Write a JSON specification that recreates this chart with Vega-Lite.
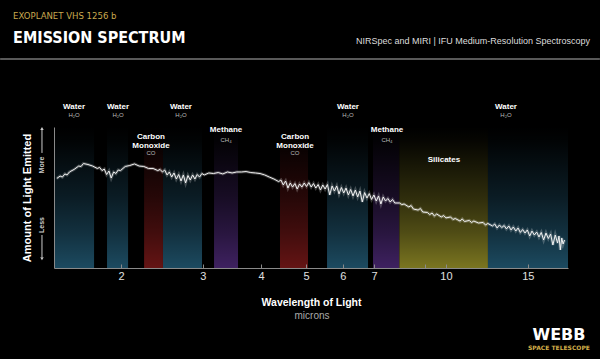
{
  "$schema": "https://vega.github.io/schema/vega-lite/v6.json",
  "width": 514,
  "height": 141,
  "autosize": "none",
  "padding": {"left": 54, "top": 127, "right": 32, "bottom": 91},
  "background": "#000000",
  "config": {"view": {"stroke": null}, "font": "Liberation Sans, DejaVu Sans, sans-serif"},
  "datasets": {
    "bands": [
      {"molecule": "Water", "start": 1.435, "end": 1.750},
      {"molecule": "Water", "start": 1.866, "end": 2.071},
      {"molecule": "Carbon Monoxide", "start": 2.242, "end": 2.462},
      {"molecule": "Water", "start": 2.462, "end": 2.987},
      {"molecule": "Methane", "start": 3.170, "end": 3.570},
      {"molecule": "Carbon Monoxide", "start": 4.395, "end": 5.049},
      {"molecule": "Water", "start": 5.548, "end": 6.797},
      {"molecule": "Methane", "start": 6.967, "end": 7.94},
      {"molecule": "Silicates", "start": 7.94, "end": 12.31},
      {"molecule": "Water", "start": 12.31, "end": 18.3}
    ],
    "labels": [
      {"molecule": "Water", "name": "Water", "formula": "H₂O", "wl": 1.585},
      {"molecule": "Water", "name": "Water", "formula": "H₂O", "wl": 1.971},
      {"molecule": "Carbon Monoxide", "name": "Carbon\nMonoxide", "formula": "CO", "wl": 2.320},
      {"molecule": "Water", "name": "Water", "formula": "H₂O", "wl": 2.692},
      {"molecule": "Methane", "name": "Methane", "formula": "CH₄", "wl": 3.365},
      {"molecule": "Carbon Monoxide", "name": "Carbon\nMonoxide", "formula": "CO", "wl": 4.735},
      {"molecule": "Water", "name": "Water", "formula": "H₂O", "wl": 6.155},
      {"molecule": "Methane", "name": "Methane", "formula": "CH₄", "wl": 7.467},
      {"molecule": "Silicates", "name": "Silicates", "formula": "", "wl": 9.90},
      {"molecule": "Water", "name": "Water", "formula": "H₂O", "wl": 13.46}
    ],
    "spectrum": [
      {"wl": 1.455, "flux": 0.635}, {"wl": 1.479, "flux": 0.652}, {"wl": 1.496, "flux": 0.645}, {"wl": 1.514, "flux": 0.667},
      {"wl": 1.531, "flux": 0.660}, {"wl": 1.549, "flux": 0.681}, {"wl": 1.585, "flux": 0.699}, {"wl": 1.622, "flux": 0.723},
      {"wl": 1.641, "flux": 0.720}, {"wl": 1.660, "flux": 0.741}, {"wl": 1.698, "flux": 0.734}, {"wl": 1.738, "flux": 0.723},
      {"wl": 1.778, "flux": 0.706}, {"wl": 1.799, "flux": 0.713}, {"wl": 1.820, "flux": 0.691}, {"wl": 1.841, "flux": 0.702},
      {"wl": 1.862, "flux": 0.663}, {"wl": 1.884, "flux": 0.688}, {"wl": 1.905, "flux": 0.638}, {"wl": 1.928, "flux": 0.681},
      {"wl": 1.950, "flux": 0.670}, {"wl": 1.972, "flux": 0.695}, {"wl": 1.995, "flux": 0.691}, {"wl": 2.042, "flux": 0.720},
      {"wl": 2.089, "flux": 0.727}, {"wl": 2.138, "flux": 0.738}, {"wl": 2.188, "flux": 0.723}, {"wl": 2.239, "flux": 0.720},
      {"wl": 2.291, "flux": 0.706}, {"wl": 2.344, "flux": 0.706}, {"wl": 2.399, "flux": 0.691}, {"wl": 2.427, "flux": 0.699},
      {"wl": 2.455, "flux": 0.681}, {"wl": 2.483, "flux": 0.695}, {"wl": 2.512, "flux": 0.660}, {"wl": 2.541, "flux": 0.681},
      {"wl": 2.570, "flux": 0.645}, {"wl": 2.600, "flux": 0.674}, {"wl": 2.630, "flux": 0.631}, {"wl": 2.661, "flux": 0.663},
      {"wl": 2.692, "flux": 0.617}, {"wl": 2.723, "flux": 0.660}, {"wl": 2.754, "flux": 0.603}, {"wl": 2.786, "flux": 0.656},
      {"wl": 2.818, "flux": 0.624}, {"wl": 2.851, "flux": 0.660}, {"wl": 2.884, "flux": 0.631}, {"wl": 2.917, "flux": 0.663},
      {"wl": 2.951, "flux": 0.645}, {"wl": 2.985, "flux": 0.670}, {"wl": 3.020, "flux": 0.660}, {"wl": 3.090, "flux": 0.674},
      {"wl": 3.162, "flux": 0.670}, {"wl": 3.236, "flux": 0.677}, {"wl": 3.311, "flux": 0.667}, {"wl": 3.388, "flux": 0.681},
      {"wl": 3.467, "flux": 0.674}, {"wl": 3.548, "flux": 0.681}, {"wl": 3.631, "flux": 0.681}, {"wl": 3.715, "flux": 0.684},
      {"wl": 3.802, "flux": 0.677}, {"wl": 3.890, "flux": 0.674}, {"wl": 3.981, "flux": 0.670}, {"wl": 4.074, "flux": 0.660},
      {"wl": 4.169, "flux": 0.645}, {"wl": 4.266, "flux": 0.631}, {"wl": 4.365, "flux": 0.613}, {"wl": 4.416, "flux": 0.624},
      {"wl": 4.467, "flux": 0.589}, {"wl": 4.519, "flux": 0.617}, {"wl": 4.571, "flux": 0.567}, {"wl": 4.624, "flux": 0.603},
      {"wl": 4.677, "flux": 0.574}, {"wl": 4.732, "flux": 0.599}, {"wl": 4.786, "flux": 0.560}, {"wl": 4.842, "flux": 0.596},
      {"wl": 4.898, "flux": 0.574}, {"wl": 4.955, "flux": 0.603}, {"wl": 5.012, "flux": 0.578}, {"wl": 5.070, "flux": 0.606},
      {"wl": 5.129, "flux": 0.574}, {"wl": 5.188, "flux": 0.599}, {"wl": 5.248, "flux": 0.567}, {"wl": 5.309, "flux": 0.592},
      {"wl": 5.370, "flux": 0.553}, {"wl": 5.433, "flux": 0.589}, {"wl": 5.495, "flux": 0.560}, {"wl": 5.559, "flux": 0.592},
      {"wl": 5.623, "flux": 0.518}, {"wl": 5.689, "flux": 0.582}, {"wl": 5.754, "flux": 0.546}, {"wl": 5.821, "flux": 0.582},
      {"wl": 5.888, "flux": 0.525}, {"wl": 5.957, "flux": 0.571}, {"wl": 6.026, "flux": 0.532}, {"wl": 6.095, "flux": 0.567},
      {"wl": 6.166, "flux": 0.518}, {"wl": 6.237, "flux": 0.557}, {"wl": 6.310, "flux": 0.511}, {"wl": 6.383, "flux": 0.553},
      {"wl": 6.457, "flux": 0.504}, {"wl": 6.531, "flux": 0.546}, {"wl": 6.607, "flux": 0.468}, {"wl": 6.683, "flux": 0.535},
      {"wl": 6.761, "flux": 0.496}, {"wl": 6.839, "flux": 0.528}, {"wl": 6.918, "flux": 0.486}, {"wl": 6.998, "flux": 0.518},
      {"wl": 7.079, "flux": 0.475}, {"wl": 7.161, "flux": 0.511}, {"wl": 7.244, "flux": 0.454}, {"wl": 7.328, "flux": 0.504},
      {"wl": 7.413, "flux": 0.475}, {"wl": 7.499, "flux": 0.493}, {"wl": 7.586, "flux": 0.468}, {"wl": 7.674, "flux": 0.486},
      {"wl": 7.762, "flux": 0.461}, {"wl": 7.943, "flux": 0.461}, {"wl": 8.035, "flux": 0.450}, {"wl": 8.128, "flux": 0.454},
      {"wl": 8.318, "flux": 0.433}, {"wl": 8.414, "flux": 0.443}, {"wl": 8.511, "flux": 0.418}, {"wl": 8.710, "flux": 0.411},
      {"wl": 8.810, "flux": 0.422}, {"wl": 8.913, "flux": 0.397}, {"wl": 9.120, "flux": 0.394}, {"wl": 9.226, "flux": 0.379},
      {"wl": 9.333, "flux": 0.390}, {"wl": 9.441, "flux": 0.369}, {"wl": 9.550, "flux": 0.383}, {"wl": 9.772, "flux": 0.362},
      {"wl": 9.886, "flux": 0.372}, {"wl": 10.00, "flux": 0.355}, {"wl": 10.23, "flux": 0.362}, {"wl": 10.35, "flux": 0.344},
      {"wl": 10.47, "flux": 0.351}, {"wl": 10.72, "flux": 0.333}, {"wl": 10.84, "flux": 0.348}, {"wl": 10.96, "flux": 0.330},
      {"wl": 11.22, "flux": 0.337}, {"wl": 11.35, "flux": 0.323}, {"wl": 11.48, "flux": 0.333}, {"wl": 11.75, "flux": 0.319},
      {"wl": 12.02, "flux": 0.323}, {"wl": 12.16, "flux": 0.305}, {"wl": 12.30, "flux": 0.316}, {"wl": 12.59, "flux": 0.298},
      {"wl": 12.73, "flux": 0.312}, {"wl": 12.88, "flux": 0.284}, {"wl": 13.03, "flux": 0.305}, {"wl": 13.18, "flux": 0.287},
      {"wl": 13.34, "flux": 0.301}, {"wl": 13.49, "flux": 0.277}, {"wl": 13.65, "flux": 0.298}, {"wl": 13.80, "flux": 0.270},
      {"wl": 13.96, "flux": 0.291}, {"wl": 14.13, "flux": 0.262}, {"wl": 14.29, "flux": 0.284}, {"wl": 14.45, "flux": 0.252},
      {"wl": 14.62, "flux": 0.273}, {"wl": 14.79, "flux": 0.248}, {"wl": 14.96, "flux": 0.270}, {"wl": 15.14, "flux": 0.227},
      {"wl": 15.31, "flux": 0.262}, {"wl": 15.49, "flux": 0.234}, {"wl": 15.67, "flux": 0.255}, {"wl": 15.85, "flux": 0.220},
      {"wl": 16.03, "flux": 0.252}, {"wl": 16.22, "flux": 0.199}, {"wl": 16.41, "flux": 0.248}, {"wl": 16.60, "flux": 0.209},
      {"wl": 16.79, "flux": 0.241}, {"wl": 16.98, "flux": 0.163}, {"wl": 17.18, "flux": 0.234}, {"wl": 17.38, "flux": 0.177},
      {"wl": 17.50, "flux": 0.227}, {"wl": 17.62, "flux": 0.128}, {"wl": 17.74, "flux": 0.213}, {"wl": 17.86, "flux": 0.170},
      {"wl": 17.99, "flux": 0.199}
    ]
  },
  "layer": [
    {
      "data": {"name": "bands"},
      "mark": {"type": "rect"},
      "encoding": {
        "x": {
          "field": "start", "type": "quantitative",
          "scale": {"type": "log", "domain": [1.435, 18.3], "nice": false},
          "axis": {
            "values": [2, 3, 4, 5, 6, 7, 9, 10, 15],
            "format": "d",
            "labelExpr": "datum.value == 9 ? '' : datum.label",
            "grid": false,
            "domainColor": "#8a8a8a", "domainWidth": 1,
            "tickColor": "#8a8a8a", "tickSize": -4,
            "labelColor": "#e0e0e0", "labelFontSize": 11, "labelPadding": 6,
            "labelFlush": false, "labelOverlap": false,
            "title": "Wavelength of Light",
            "titleColor": "#ffffff", "titleFontSize": 10.5, "titleFontWeight": "bold", "titlePadding": 16,
            "zindex": 1
          }
        },
        "x2": {"field": "end"},
        "y": {
          "datum": 0, "type": "quantitative",
          "scale": {"domain": [0, 1], "nice": false, "zero": false},
          "axis": {
            "title": "Amount of Light Emitted",
            "grid": false, "ticks": false, "labels": false,
            "domainColor": "#8a8a8a", "domainWidth": 1,
            "titleColor": "#ffffff", "titleFontSize": 11, "titleFontWeight": "bold", "titlePadding": 22,
            "zindex": 1
          }
        },
        "y2": {"datum": 1},
        "color": {
          "field": "molecule", "type": "nominal",
          "scale": {"domain": ["Water", "Carbon Monoxide", "Methane", "Silicates"], "range": ["#1c4a60", "#641414", "#3e2160", "#7a7520"]},
          "legend": null
        }
      }
    },
    {
      "data": {"values": [{}]},
      "mark": {
        "type": "rect",
        "fill": {
          "gradient": "linear", "x1": 0, "y1": 0, "x2": 0, "y2": 1,
          "stops": [
            {"offset": 0, "color": "rgba(0,0,0,1)"},
            {"offset": 0.1, "color": "rgba(0,0,0,0.95)"},
            {"offset": 0.5, "color": "rgba(0,0,0,0.62)"},
            {"offset": 0.75, "color": "rgba(0,0,0,0.35)"},
            {"offset": 1, "color": "rgba(0,0,0,0)"}
          ]
        }
      },
      "encoding": {"x": {"datum": 1.435}, "x2": {"datum": 18.3}, "y": {"datum": 0}, "y2": {"datum": 1}}
    },
    {
      "data": {"name": "spectrum"},
      "mark": {"type": "line", "color": "#ffffff", "strokeWidth": 3, "opacity": 0.22},
      "encoding": {"x": {"field": "wl", "type": "quantitative"}, "y": {"field": "flux", "type": "quantitative"}}
    },
    {
      "data": {"name": "spectrum"},
      "mark": {"type": "line", "color": "#f2f2f2", "strokeWidth": 1},
      "encoding": {"x": {"field": "wl", "type": "quantitative"}, "y": {"field": "flux", "type": "quantitative"}}
    },
    {
      "data": {"name": "labels"},
      "transform": [{"filter": "datum.molecule == 'Water'"}],
      "layer": [
        {"mark": {"type": "text", "color": "#ffffff", "fontSize": 8, "fontWeight": "bold", "align": "center", "baseline": "middle"},
         "encoding": {"x": {"field": "wl", "type": "quantitative"}, "y": {"datum": 1.142}, "text": {"field": "name"}}},
        {"mark": {"type": "text", "color": "#bbbbbb", "fontSize": 6, "align": "center", "baseline": "middle"},
         "encoding": {"x": {"field": "wl", "type": "quantitative"}, "y": {"datum": 1.085}, "text": {"field": "formula"}}}
      ]
    },
    {
      "data": {"name": "labels"},
      "transform": [{"filter": "datum.molecule == 'Carbon Monoxide'"}],
      "layer": [
        {"mark": {"type": "text", "color": "#ffffff", "fontSize": 8, "fontWeight": "bold", "align": "center", "baseline": "middle", "lineBreak": "\n", "lineHeight": 9},
         "encoding": {"x": {"field": "wl", "type": "quantitative"}, "y": {"datum": 0.926}, "text": {"field": "name"}}},
        {"mark": {"type": "text", "color": "#bbbbbb", "fontSize": 6, "align": "center", "baseline": "middle"},
         "encoding": {"x": {"field": "wl", "type": "quantitative"}, "y": {"datum": 0.816}, "text": {"field": "formula"}}}
      ]
    },
    {
      "data": {"name": "labels"},
      "transform": [{"filter": "datum.molecule == 'Methane'"}],
      "layer": [
        {"mark": {"type": "text", "color": "#ffffff", "fontSize": 8, "fontWeight": "bold", "align": "center", "baseline": "middle"},
         "encoding": {"x": {"field": "wl", "type": "quantitative"}, "y": {"datum": 0.979}, "text": {"field": "name"}}},
        {"mark": {"type": "text", "color": "#bbbbbb", "fontSize": 6, "align": "center", "baseline": "middle"},
         "encoding": {"x": {"field": "wl", "type": "quantitative"}, "y": {"datum": 0.908}, "text": {"field": "formula"}}}
      ]
    },
    {
      "data": {"name": "labels"},
      "transform": [{"filter": "datum.molecule == 'Silicates'"}],
      "mark": {"type": "text", "color": "#ffffff", "fontSize": 8, "fontWeight": "bold", "align": "center", "baseline": "middle"},
      "encoding": {"x": {"field": "wl", "type": "quantitative"}, "y": {"datum": 0.766}, "text": {"field": "name"}}
    },
    {
      "data": {"values": [{"word": "More", "at": 0.730}, {"word": "Less", "at": 0.305}]},
      "mark": {"type": "text", "color": "#cccccc", "fontSize": 7, "fontWeight": "bold", "angle": 270, "align": "center", "baseline": "middle"},
      "encoding": {"x": {"datum": 1.352}, "y": {"field": "at", "type": "quantitative"}, "text": {"field": "word"}}
    },
    {
      "data": {"values": [{"from": 0.816, "to": 0.979}, {"from": 0.078, "to": 0.234}]},
      "mark": {"type": "rule", "color": "#cccccc", "strokeWidth": 1},
      "encoding": {"x": {"datum": 1.352}, "y": {"field": "from", "type": "quantitative"}, "y2": {"field": "to"}}
    },
    {
      "data": {"values": [{"at": 0.99, "dir": "up"}, {"at": 0.066, "dir": "down"}]},
      "mark": {"type": "point", "filled": true, "color": "#cccccc", "size": 12, "opacity": 1},
      "encoding": {
        "x": {"datum": 1.352},
        "y": {"field": "at", "type": "quantitative"},
        "shape": {"field": "dir", "type": "nominal", "scale": {"domain": ["up", "down"], "range": ["triangle-up", "triangle-down"]}, "legend": null}
      }
    },
    {
      "data": {"values": [{}]},
      "mark": {"type": "rule", "color": "#777777", "strokeWidth": 1.5},
      "encoding": {"x": {"datum": 1.099}, "x2": {"datum": 21.43}, "y": {"datum": 1.482}}
    },
    {
      "data": {"values": [{"t": "EXOPLANET VHS 1256 b"}]},
      "mark": {"type": "text", "color": "#c9a94f", "fontSize": 9.5, "font": "Liberation Sans Narrow, DejaVu Sans Condensed, Liberation Sans", "align": "left", "baseline": "alphabetic"},
      "encoding": {"x": {"datum": 1.172}, "y": {"datum": 1.766}, "text": {"field": "t"}}
    },
    {
      "data": {"values": [{"t": "EMISSION SPECTRUM"}]},
      "mark": {"type": "text", "color": "#ffffff", "fontSize": 16, "fontWeight": "bold", "font": "Liberation Sans Narrow, DejaVu Sans Condensed, Liberation Sans", "align": "left", "baseline": "alphabetic"},
      "encoding": {"x": {"datum": 1.172}, "y": {"datum": 1.596}, "text": {"field": "t"}}
    },
    {
      "data": {"values": [{"t": "NIRSpec and MIRI | IFU Medium-Resolution Spectroscopy"}]},
      "mark": {"type": "text", "color": "#dddddd", "fontSize": 9, "align": "right", "baseline": "middle"},
      "encoding": {"x": {"datum": 20.40}, "y": {"datum": 1.610}, "text": {"field": "t"}}
    },
    {
      "data": {"values": [{"t": "microns"}]},
      "mark": {"type": "text", "color": "#aaaaaa", "fontSize": 10, "align": "center", "baseline": "middle"},
      "encoding": {"x": {"datum": 5.15}, "y": {"datum": -0.340}, "text": {"field": "t"}}
    },
    {
      "data": {"values": [{"t": "WEBB"}]},
      "mark": {"type": "text", "color": "#ffffff", "fontSize": 16, "fontWeight": "bold", "font": "DejaVu Sans", "align": "center", "baseline": "middle"},
      "encoding": {"x": {"datum": 17.50}, "y": {"datum": -0.475}, "text": {"field": "t"}}
    },
    {
      "data": {"values": [{"t": "SPACE TELESCOPE"}]},
      "mark": {"type": "text", "color": "#d4b04a", "fontSize": 6, "fontWeight": "bold", "font": "DejaVu Sans", "align": "center", "baseline": "middle"},
      "encoding": {"x": {"datum": 17.50}, "y": {"datum": -0.564}, "text": {"field": "t"}}
    }
  ]
}
